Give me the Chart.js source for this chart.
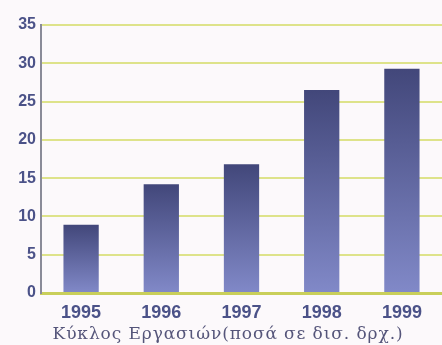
<!DOCTYPE html>
<html>
<head>
<meta charset="utf-8">
<script src="https://cdn.jsdelivr.net/npm/chart.js@4/dist/chart.umd.min.js"></script>
<style>
  html, body { margin: 0; padding: 0; background: #fcf9fb; }
  canvas { display: block; }
</style>
</head>
<body>
<canvas id="turnoverChart" width="442" height="345"></canvas>
<script>
// dati
const years = ['1995', '1996', '1997', '1998', '1999'];
const turnover = [8.9, 14.2, 16.8, 26.5, 29.3];
const yTicks = [0, 5, 10, 15, 20, 25, 30, 35];
const xTitle = 'Κύκλος Εργασιών(ποσά σε δισ. δρχ.)';

const tickColor = '#4b5288';

// sfondo della tela + titolo dell'asse x (con spaziatura tra le lettere)
const bgPlugin = {
    id: 'bg',
    beforeDraw(chart) {
        const c = chart.ctx;
        c.save();
        c.fillStyle = '#fcf9fb';
        c.fillRect(0, 0, chart.width, chart.height);
        c.restore();
    },
    afterDraw(chart) {
        const c = chart.ctx;
        c.save();
        c.font = '17px "DejaVu Serif"';
        c.letterSpacing = '0.9px';
        c.fillStyle = '#55557a';
        c.textAlign = 'center';
        c.textBaseline = 'alphabetic';
        c.fillText(xTitle, 228, 339);
        c.restore();
    }
};

// gradiente per ogni barra: scuro in alto, chiaro alla base
function barGradient(context) {
    const chart = context.chart;
    if (!chart.chartArea || context.type !== 'data') return '#5a6098';
    const y = chart.scales.y;
    const top = y.getPixelForValue(context.parsed.y);
    const base = y.getPixelForValue(0);
    const g = chart.ctx.createLinearGradient(0, top, 0, base);
    g.addColorStop(0, '#42477a');
    g.addColorStop(1, '#8189c8');
    return g;
}

const ctx = document.getElementById('turnoverChart').getContext('2d');
new Chart(ctx, {
    type: 'bar',
    data: {
        labels: years,
        datasets: [{
            data: turnover,
            backgroundColor: barGradient,
            barPercentage: 0.44,
            categoryPercentage: 1.0
        }]
    },
    options: {
        responsive: false,
        animation: false,
        layout: { padding: { top: 25, right: 0, bottom: 0, left: 0 } },
        plugins: {
            legend: { display: false },
            tooltip: { enabled: false }
        },
        scales: {
            x: {
                grid: { display: false },
                border: { display: true, color: '#c9cf5a', width: 3 },
                ticks: {
                    color: tickColor,
                    padding: 1,
                    font: { family: 'Liberation Sans', size: 18, weight: 'bold' }
                },
                afterFit(scale) { scale.height = 52; }
            },
            y: {
                min: 0,
                max: 35,
                afterBuildTicks(scale) {
                    scale.ticks = yTicks.map(v => ({ value: v }));
                },
                grid: { color: '#dee38a', lineWidth: 2, drawTicks: false },
                border: { display: true, color: '#8a8b98', width: 2 },
                ticks: {
                    color: tickColor,
                    padding: 5,
                    font: { family: 'Liberation Sans', size: 16, weight: 'bold' }
                },
                afterFit(scale) { scale.width = 41; }
            }
        }
    },
    plugins: [bgPlugin]
});
</script>
</body>
</html>
